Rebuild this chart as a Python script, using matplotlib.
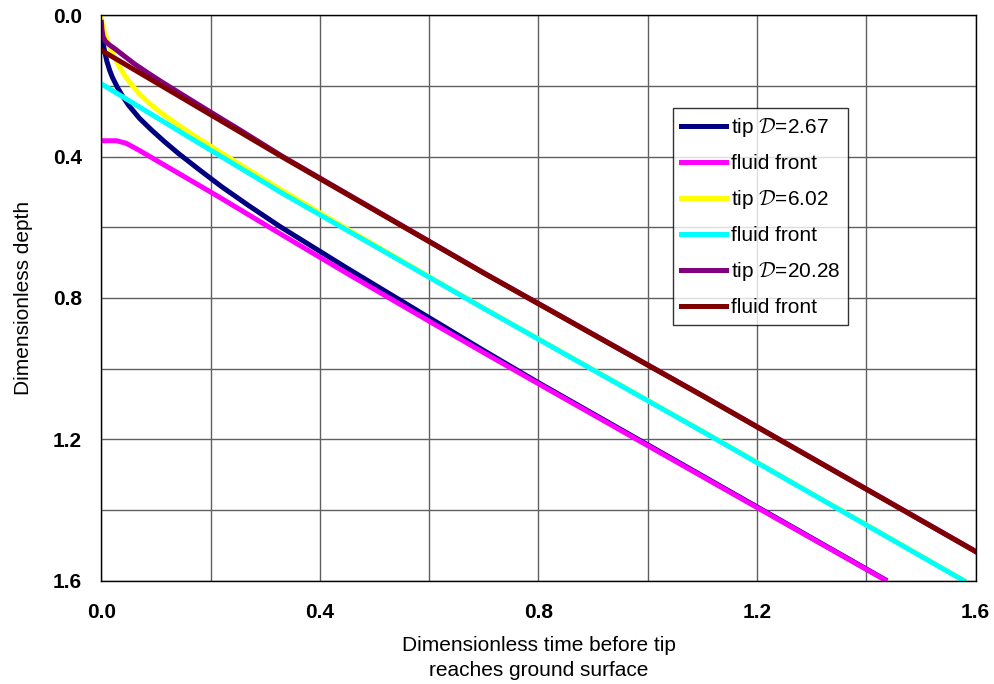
import numpy as np
import matplotlib
matplotlib.use('Agg')
import matplotlib.pyplot as plt
from matplotlib.ticker import MultipleLocator

plt.rcParams['font.family'] = ['Liberation Sans', 'DejaVu Sans']
plt.rcParams['mathtext.fontset'] = 'cm'

# tip D=2.67
tip1_t = [0.0, 0.002, 0.005, 0.01, 0.015, 0.02, 0.03, 0.04, 0.05, 0.07, 0.092, 0.115, 0.141,
          0.18, 0.22, 0.27, 0.327, 0.449, 0.6, 0.7, 0.8, 1.434]
tip1_d = [0.03, 0.065, 0.095, 0.13, 0.155, 0.175, 0.206, 0.232, 0.255, 0.292, 0.325, 0.357, 0.391,
          0.438, 0.485, 0.539, 0.598, 0.715, 0.856, 0.949, 1.04, 1.597]
# fluid front D=2.67
front1_t = [0.0, 0.028, 0.045, 0.068, 0.1, 0.141, 0.214, 0.327, 0.449, 0.6, 0.7, 0.8, 1.434]
front1_d = [0.355, 0.355, 0.362, 0.381, 0.41, 0.447, 0.513, 0.618, 0.73, 0.866, 0.955, 1.043, 1.598]
# tip D=6.02
tip2_t = [0.0, 0.003, 0.007, 0.012, 0.022, 0.032, 0.043, 0.055, 0.068, 0.09, 0.11, 0.14, 0.171,
          0.22, 0.27, 0.327, 0.45, 0.6, 0.7, 1.1, 1.578]
tip2_d = [0.01, 0.032, 0.055, 0.078, 0.113, 0.143, 0.171, 0.196, 0.22, 0.252, 0.277, 0.31, 0.342,
          0.39, 0.438, 0.492, 0.605, 0.74, 0.829, 1.177, 1.599]
# fluid front D=6.02
front2_t = [0.0, 0.12, 0.226, 0.327, 0.7, 1.1, 1.578]
front2_d = [0.194, 0.307, 0.406, 0.5, 0.83, 1.178, 1.60]
# tip D=20.28
tip3_t = [0.0, 0.001, 0.003, 0.007, 0.015, 0.025, 0.04, 0.061, 0.085, 0.11, 0.135, 0.16, 0.2,
          0.25, 0.33, 0.7, 1.1, 1.6]
tip3_d = [0.02, 0.04, 0.06, 0.073, 0.084, 0.095, 0.113, 0.138, 0.163, 0.188, 0.212, 0.236, 0.274,
          0.321, 0.398, 0.729, 1.076, 1.517]
# fluid front D=20.28
front3_t = [0.0, 0.33, 0.7, 1.1, 1.6]
front3_d = [0.099, 0.400, 0.730, 1.077, 1.518]

fig = plt.figure(figsize=(9.95, 6.84), dpi=100)
ax = fig.add_axes([0.1019, 0.1512, 0.8786, 0.8264])

lw = 3.6
ax.plot(tip1_t, tip1_d, color='#000080', lw=lw, label=r'tip $\mathcal{D}$=2.67')
ax.plot(front1_t, front1_d, color='#ff00ff', lw=lw, label='fluid front')
ax.plot(tip2_t, tip2_d, color='#ffff00', lw=lw, label=r'tip $\mathcal{D}$=6.02')
ax.plot(front2_t, front2_d, color='#00ffff', lw=lw, label='fluid front')
ax.plot(tip3_t, tip3_d, color='#800080', lw=lw, label=r'tip $\mathcal{D}$=20.28')
ax.plot(front3_t, front3_d, color='#800000', lw=lw, label='fluid front')

ax.set_xlim(0, 1.6)
ax.set_ylim(1.6, 0)
ax.xaxis.set_major_locator(MultipleLocator(0.4))
ax.yaxis.set_major_locator(MultipleLocator(0.4))
ax.xaxis.set_minor_locator(MultipleLocator(0.2))
ax.yaxis.set_minor_locator(MultipleLocator(0.2))
ax.xaxis.set_major_formatter(plt.FormatStrFormatter('%.1f'))
ax.yaxis.set_major_formatter(plt.FormatStrFormatter('%.1f'))
ax.grid(which='both', color='#606060', lw=1.0)
ax.set_axisbelow(True)
ax.tick_params(which='both', length=0)
ax.tick_params(axis='x', pad=16, labelsize=15)
ax.tick_params(axis='y', pad=14, labelsize=15)
for lab in ax.get_xticklabels() + ax.get_yticklabels():
    lab.set_fontweight('bold')
for s in ax.spines.values():
    s.set_color('black')
    s.set_linewidth(1.0)

ax.set_xlabel('Dimensionless time before tip\nreaches ground surface', fontsize=15, labelpad=10,
              linespacing=1.4)
ax.set_ylabel('Dimensionless depth', fontsize=15, labelpad=14)

leg = ax.legend(loc='upper left', bbox_to_anchor=(0.6535, 0.8362), fontsize=15,
                frameon=True, fancybox=False, handlelength=2.16, labelspacing=0.72,
                borderpad=0.38, handletextpad=0.25, borderaxespad=0)
leg.get_frame().set_edgecolor('black')
leg.get_frame().set_linewidth(1.0)

fig.savefig('out.png', dpi=100)
